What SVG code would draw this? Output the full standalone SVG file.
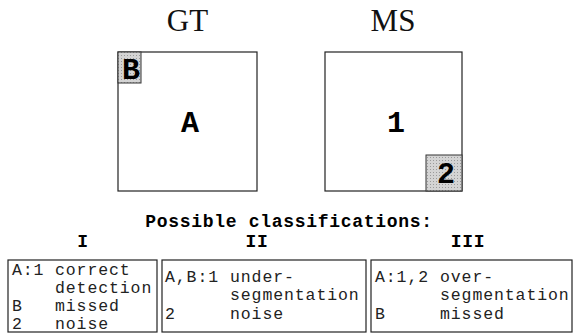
<svg xmlns="http://www.w3.org/2000/svg" width="574" height="334" viewBox="0 0 574 334">
<defs>
<pattern id="dots" width="3" height="3" patternUnits="userSpaceOnUse">
<rect width="3" height="3" fill="#d4d4d4"/>
<rect x="1" y="1" width="1" height="1" fill="#9a9a9a"/>
</pattern>
</defs>
<style>
.box{fill:#fff;stroke:#222;stroke-width:1.2}
.shade{fill:url(#dots);stroke:#333;stroke-width:1}
.title{font-family:"Liberation Serif","Times New Roman",serif;font-size:31px;fill:#111}
.big{font-family:"Liberation Mono","Courier New",monospace;font-weight:bold;font-size:30px;fill:#000}
.head{font-family:"Liberation Mono","Courier New",monospace;font-weight:bold;font-size:18px;letter-spacing:0.7px;fill:#000}
.body{font-family:"Liberation Mono","Courier New",monospace;font-size:16.5px;letter-spacing:0.9px;fill:#222}
</style>
<rect width="574" height="334" fill="#fff"/>
<g id="gt">
<text class="title" x="187.5" y="31" text-anchor="middle">GT</text>
<rect class="box" x="118" y="52" width="139" height="139"/>
<rect class="shade" x="118" y="52" width="23" height="31"/>
<text class="big" x="131" y="79" text-anchor="middle">B</text>
<text class="big" x="190" y="132" text-anchor="middle">A</text>
</g>
<g id="ms">
<text class="title" x="393" y="31" text-anchor="middle">MS</text>
<rect class="box" x="325" y="52" width="137" height="139"/>
<rect class="shade" x="426" y="155" width="36" height="36"/>
<text class="big" x="446" y="183" text-anchor="middle">2</text>
<text class="big" x="396" y="132" text-anchor="middle">1</text>
</g>
<text class="head" x="289" y="227" text-anchor="middle">Possible classifications:</text>
<g id="class1">
<text class="head" x="83" y="247" text-anchor="middle">I</text>
<rect class="box" x="8" y="260" width="149" height="72"/>
<text class="body"><tspan x="12" y="275">A:1</tspan><tspan x="55" y="275">correct</tspan><tspan x="55" y="293">detection</tspan><tspan x="12" y="311">B</tspan><tspan x="55" y="311">missed</tspan><tspan x="12" y="329">2</tspan><tspan x="55" y="329">noise</tspan></text>
</g>
<g id="class2">
<text class="head" x="257" y="247" text-anchor="middle">II</text>
<rect class="box" x="162" y="260" width="204" height="72"/>
<text class="body"><tspan x="165" y="282">A,B:1</tspan><tspan x="230" y="282">under-</tspan><tspan x="230" y="300">segmentation</tspan><tspan x="165" y="319">2</tspan><tspan x="230" y="319">noise</tspan></text>
</g>
<g id="class3">
<text class="head" x="468" y="247" text-anchor="middle">III</text>
<rect class="box" x="371" y="260" width="201" height="72"/>
<text class="body"><tspan x="375" y="282">A:1,2</tspan><tspan x="440" y="282">over-</tspan><tspan x="440" y="300">segmentation</tspan><tspan x="375" y="319">B</tspan><tspan x="440" y="319">missed</tspan></text>
</g>
<g id="connectors"/>
</svg>
